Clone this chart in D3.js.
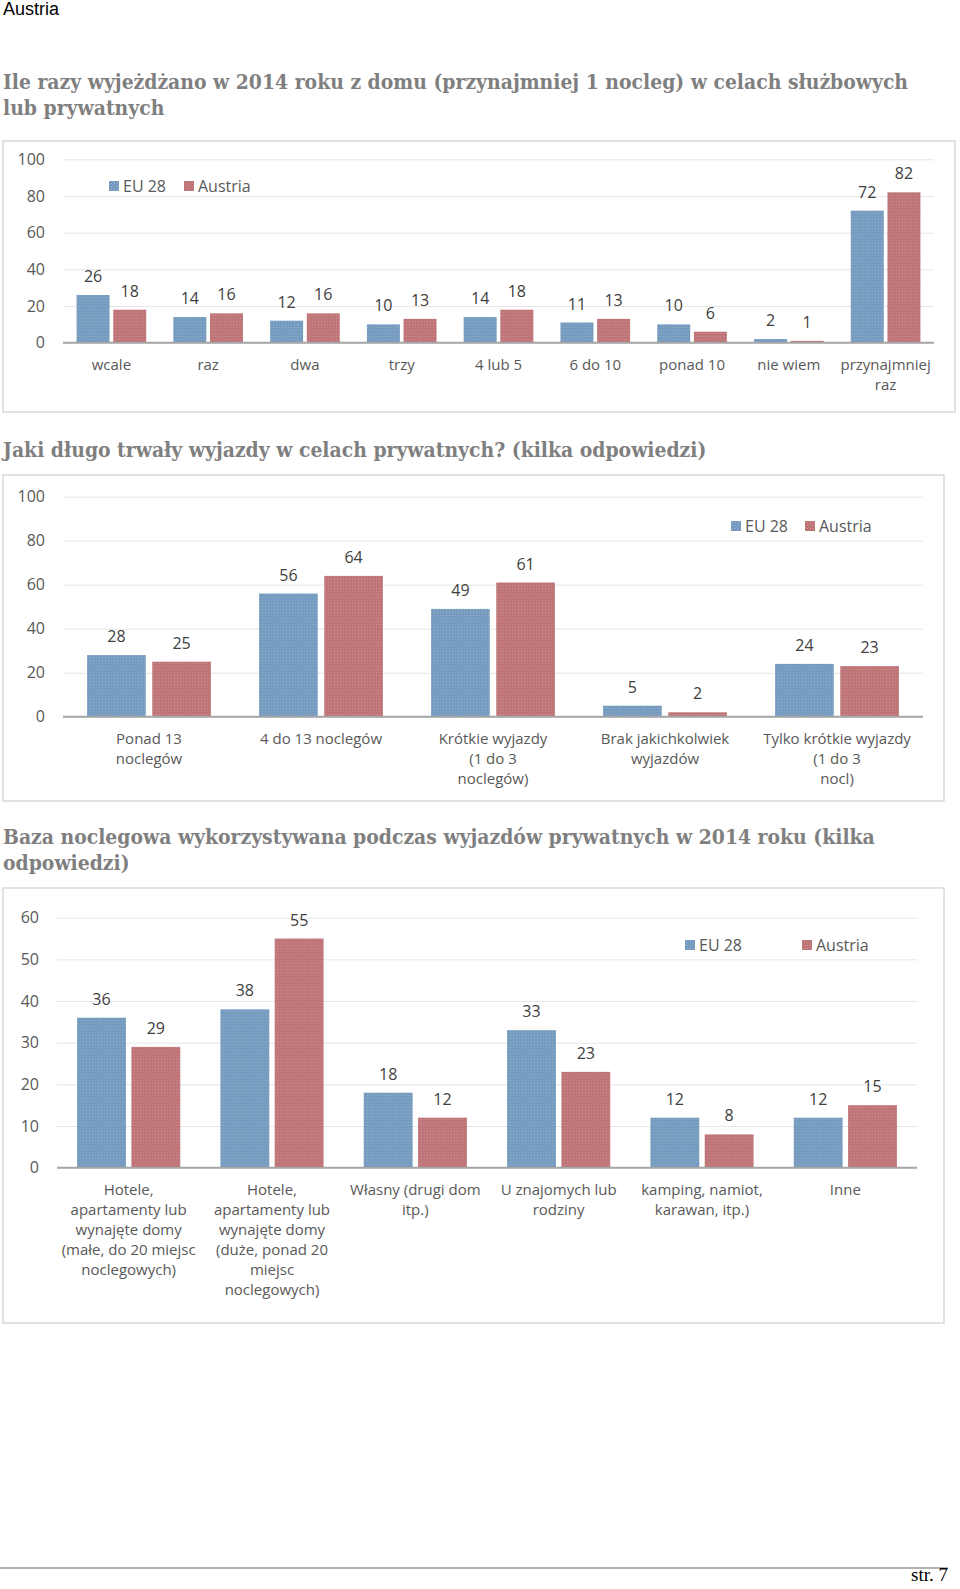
<!DOCTYPE html>
<html><head><meta charset="utf-8">
<script src="https://cdn.jsdelivr.net/npm/d3@7"></script>
<style>
html,body{margin:0;padding:0;background:#fff;}
svg{display:block;}
</style></head>
<body>
<script>
// ---------- DATA ----------
const seriesNames = ["EU 28", "Austria"];

const cats1 = [["wcale"],["raz"],["dwa"],["trzy"],["4 lub 5"],["6 do 10"],["ponad 10"],["nie wiem"],["przynajmniej","raz"]];
const eu1 = [26,14,12,10,14,11,10,2,72];
const at1 = [18,16,16,13,18,13,6,1,82];
const ticks1 = [0,20,40,60,80,100];

const cats2 = [["Ponad 13","noclegów"],["4 do 13 noclegów"],["Krótkie wyjazdy","(1 do 3","noclegów)"],["Brak jakichkolwiek","wyjazdów"],["Tylko krótkie wyjazdy","(1 do 3","nocl)"]];
const eu2 = [28,56,49,5,24];
const at2 = [25,64,61,2,23];
const ticks2 = [0,20,40,60,80,100];

const cats3 = [["Hotele,","apartamenty lub","wynajęte domy","(małe, do 20 miejsc","noclegowych)"],
               ["Hotele,","apartamenty lub","wynajęte domy","(duże, ponad 20","miejsc","noclegowych)"],
               ["Własny (drugi dom","itp.)"],["U znajomych lub","rodziny"],["kamping, namiot,","karawan, itp.)"],["Inne"]];
const eu3 = [36,38,18,33,12,12];
const at3 = [29,55,12,23,8,15];
const ticks3 = [0,10,20,30,40,50,60];

const pageHeader = "Austria";
const title1 = ["Ile razy wyjeżdżano w 2014 roku z domu (przynajmniej 1 nocleg) w celach służbowych","lub prywatnych"];
const title2 = ["Jaki długo trwały wyjazdy w celach prywatnych? (kilka odpowiedzi)"];
const title3 = ["Baza noclegowa wykorzystywana podczas wyjazdów prywatnych w 2014 roku (kilka","odpowiedzi)"];
const footerText = "str. 7";

// ---------- STYLE ----------
const W = 960, H = 1589;
const SANS = "'Open Sans', 'DejaVu Sans', sans-serif";
const SERIF = "'DejaVu Serif Condensed', 'DejaVu Serif', serif";

const svg = d3.select("body").append("svg").attr("width", W).attr("height", H)
  .attr("font-family", SANS);
svg.append("rect").attr("width", W).attr("height", H).attr("fill", "#fff");

// textured fills
const defs = svg.append("defs");
function pattern(id, base, light){
  const p = defs.append("pattern").attr("id", id).attr("patternUnits","userSpaceOnUse")
    .attr("width",3).attr("height",3);
  p.append("rect").attr("width",3).attr("height",3).attr("fill", base);
  p.append("rect").attr("width",1).attr("height",1).attr("fill", light).attr("opacity",0.55);
  p.append("rect").attr("x",1.5).attr("y",1.5).attr("width",1).attr("height",1).attr("fill", light).attr("opacity",0.35);
}
pattern("patB", "#7199bd", "#b9cfe2");
pattern("patR", "#bd7175", "#e2b6b8");
const fills = ["url(#patB)", "url(#patR)"];

// header
svg.append("text").attr("x",3).attr("y",15).attr("font-size",18).attr("fill","#000")
  .attr("font-family","'Liberation Sans', 'Open Sans', sans-serif").text(pageHeader);

// titles
const titleG = svg.append("g").attr("font-family", SERIF).attr("font-weight","bold")
  .attr("font-stretch","condensed").attr("fill","#7f7f7f");
function drawTitle(lines, y0){
  const t = titleG.append("text").attr("x",3).attr("y",y0).attr("font-size",18);
  lines.forEach((l,i)=> t.append("tspan").attr("x",3).attr("dy", i===0?0:26).text(l));
  return t;
}
const tt1 = drawTitle(title1, 89);
const tt2 = drawTitle(title2, 457);
const tt3 = drawTitle(title3, 844);
// fit font size so the first title line spans the reference width
{
  const first = tt1.select("tspan").node();
  const w = first.getComputedTextLength();
  const fs = Math.min(23, 18 * 906 / w);
  titleG.selectAll("text").attr("font-size", fs);
}

// footer
svg.append("line").attr("x1",0).attr("x2",948).attr("y1",1568).attr("y2",1568)
  .attr("stroke","#9a9a9a").attr("stroke-width",1.5);
svg.append("text").attr("x",948).attr("y",1581).attr("text-anchor","end")
  .attr("font-family","'Liberation Serif', serif").attr("font-size",19).attr("fill","#000").text(footerText);

// ---------- CHART FUNCTION ----------
function chart(cfg){
  const g = svg.append("g");
  g.append("rect").attr("x",cfg.box[0]).attr("y",cfg.box[1])
    .attr("width",cfg.box[2]-cfg.box[0]).attr("height",cfg.box[3]-cfg.box[1])
    .attr("fill","#fff").attr("stroke","#d9d9d9").attr("stroke-width",1.5);

  const x = d3.scaleBand().domain(d3.range(cfg.cats.length)).range([cfg.x0, cfg.x1])
    .paddingInner(0.28).paddingOuter(0.14);
  const xs = d3.scaleBand().domain([0,1]).range([0, x.bandwidth()]).paddingInner(0.1);
  const y = d3.scaleLinear().domain([0, cfg.ymax]).range([cfg.y0, cfg.yTop]);

  const ax = g.append("g").attr("transform", `translate(${cfg.x0},0)`)
    .call(d3.axisLeft(y).tickValues(cfg.ticks).tickSize(-(cfg.x1-cfg.x0)).tickPadding(18));
  ax.select(".domain").remove();
  ax.selectAll(".tick line").attr("stroke","#e6e6e6").attr("stroke-width",1);
  ax.selectAll(".tick text").attr("font-size",16).attr("fill","#595959").attr("font-family",SANS);

  const rows = cfg.cats.map((c,i)=>({i, vals:[cfg.eu[i], cfg.at[i]]}));
  const grp = g.selectAll(".cat").data(rows).join("g").attr("transform", d=>`translate(${x(d.i)},0)`);
  grp.selectAll("rect").data(d=>d.vals.map((v,k)=>({v,k}))).join("rect")
    .attr("x", d=>xs(d.k)).attr("width", xs.bandwidth())
    .attr("y", d=>y(d.v)).attr("height", d=>cfg.y0 - y(d.v))
    .attr("fill", d=>fills[d.k]);
  grp.selectAll("text.val").data(d=>d.vals.map((v,k)=>({v,k}))).join("text").attr("class","val")
    .attr("x", d=>xs(d.k)+xs.bandwidth()/2).attr("y", d=>y(d.v)-13)
    .attr("text-anchor","middle").attr("font-size",16).attr("fill","#404040").text(d=>d.v);

  // baseline
  g.append("line").attr("x1",cfg.x0).attr("x2",cfg.x1).attr("y1",cfg.y0).attr("y2",cfg.y0)
    .attr("stroke","#a6a6a6").attr("stroke-width",2);

  // category labels
  cfg.cats.forEach((lines,i)=>{
    const t = g.append("text").attr("text-anchor","middle").attr("font-size",15).attr("fill","#595959")
      .attr("x", x(i)+x.bandwidth()/2).attr("y", cfg.labY);
    lines.forEach((l,j)=> t.append("tspan").attr("x", x(i)+x.bandwidth()/2).attr("dy", j===0?0:20).text(l));
  });

  // legend
  cfg.legend.forEach((lx,k)=>{
    g.append("rect").attr("x",lx).attr("y",cfg.legY-5).attr("width",10).attr("height",10).attr("fill",fills[k]);
    g.append("text").attr("x",lx+14).attr("y",cfg.legY+5.5).attr("font-size",16).attr("fill","#595959").text(seriesNames[k]);
  });
}

chart({cats:cats1, eu:eu1, at:at1, ticks:ticks1, ymax:100,
  box:[3,141,955,412], x0:63, x1:934, y0:342.7, yTop:159.3, labY:370, legend:[109,184], legY:186});
chart({cats:cats2, eu:eu2, at:at2, ticks:ticks2, ymax:100,
  box:[3,475,944,801], x0:63, x1:923, y0:716.7, yTop:496.7, labY:744, legend:[731,805], legY:526});
chart({cats:cats3, eu:eu3, at:at3, ticks:ticks3, ymax:60,
  box:[3,888,944,1323], x0:57, x1:917, y0:1167.7, yTop:917.7, labY:1195, legend:[685,802], legY:945});
</script>
</body></html>
